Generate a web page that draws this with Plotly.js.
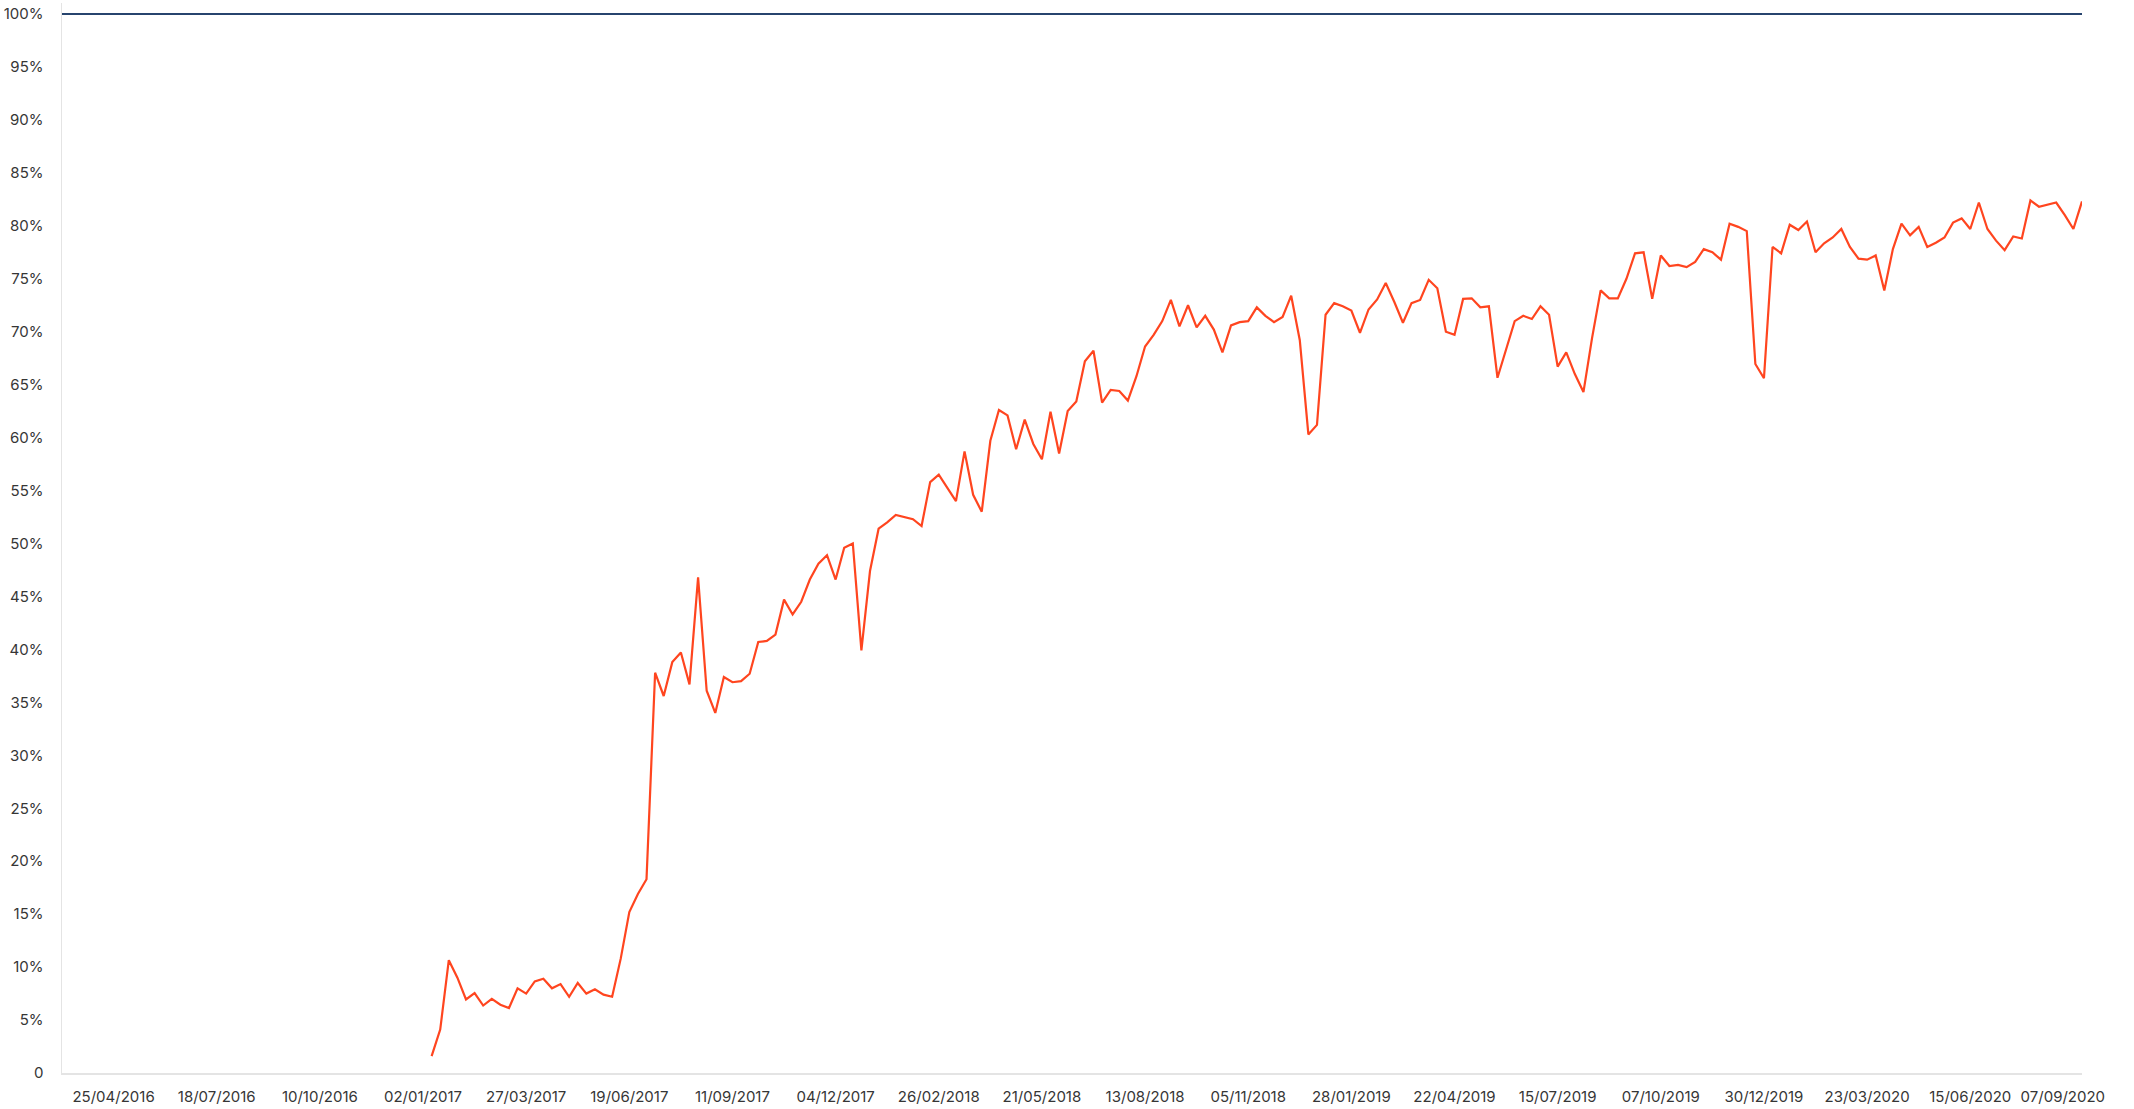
<!DOCTYPE html>
<html>
<head>
<meta charset="utf-8">
<script src="https://cdn.plot.ly/plotly-3.0.1.min.js"></script>
<style>
  html, body { margin: 0; padding: 0; background: #ffffff; }
  #chart { width: 2134px; height: 1109px; }
</style>
</head>
<body>
<div id="chart"></div>
<script>
// ---- Data ----
const seriesStart = '2017-01-09';           // first weekly point of the adoption series
const axisStart = '2016-03-14';
const axisEnd = '2020-09-14';

// weekly share (%) of the orange series
const adoptionPct = [
  1.6, 4.1, 10.65, 9.0, 6.95, 7.55, 6.37, 7.0, 6.45, 6.14,
  7.99, 7.5, 8.65, 8.9, 8.0, 8.4, 7.2, 8.5, 7.5, 7.9,
  7.4, 7.2, 10.8, 15.2, 16.9, 18.3, 37.8, 35.6, 38.8, 39.7,
  36.7, 46.8, 36.1, 34.0, 37.4, 36.9, 37.0, 37.7, 40.7, 40.8,
  41.4, 44.7, 43.3, 44.5, 46.6, 48.1, 48.9, 46.6, 49.6, 50.0,
  39.9, 47.4, 51.4, 52.0, 52.7, 52.5, 52.3, 51.65, 55.8, 56.5,
  55.2, 54.0, 58.7, 54.6, 53.0, 59.7, 62.6, 62.1, 58.9, 61.7,
  59.4, 57.95, 62.45, 58.5, 62.5, 63.4, 67.2, 68.2, 63.3, 64.5,
  64.4, 63.5, 65.8, 68.6, 69.7, 71.0, 73.0, 70.5, 72.5, 70.4,
  71.5, 70.2, 68.05, 70.6, 70.9, 71.0, 72.3, 71.5, 70.9, 71.4,
  73.4, 69.2, 60.3, 61.2, 71.6, 72.7, 72.4, 72.0, 69.9, 72.1,
  73.05, 74.6, 72.8, 70.85, 72.7, 73.0, 74.9, 74.1, 70.0, 69.7,
  73.1, 73.15, 72.3, 72.4, 65.65, 68.3, 71.0, 71.5, 71.2, 72.4,
  71.6, 66.7, 68.05, 66.0, 64.3, 69.4, 73.9, 73.15, 73.15, 75.0,
  77.4, 77.5, 73.1, 77.2, 76.2, 76.3, 76.1, 76.6, 77.8, 77.5,
  76.8, 80.2, 79.9, 79.5, 66.95, 65.6, 78.0, 77.4, 80.1, 79.6,
  80.4, 77.5, 78.35, 78.9, 79.7, 78.0, 76.9, 76.8, 77.2, 73.9,
  77.8, 80.2, 79.1, 79.9, 78.0, 78.4, 78.9, 80.3, 80.7, 79.7,
  82.2, 79.7, 78.6, 77.7, 79.0, 78.8, 82.4, 81.8, 82.0, 82.2,
  81.0, 79.7, 82.3
];

// the flat 100% reference line
const targetDates = ['2016-03-14', '2020-09-14'];
const targetPct = [100, 100];

// axis ticks
const xTickDates = [
  '2016-04-25', '2016-07-18', '2016-10-10', '2017-01-02', '2017-03-27',
  '2017-06-19', '2017-09-11', '2017-12-04', '2018-02-26', '2018-05-21',
  '2018-08-13', '2018-11-05', '2019-01-28', '2019-04-22', '2019-07-15',
  '2019-10-07', '2019-12-30', '2020-03-23', '2020-06-15', '2020-09-07'
];
const xTickLabels = [
  '25/04/2016', '18/07/2016', '10/10/2016', '02/01/2017', '27/03/2017',
  '19/06/2017', '11/09/2017', '04/12/2017', '26/02/2018', '21/05/2018',
  '13/08/2018', '05/11/2018', '28/01/2019', '22/04/2019', '15/07/2019',
  '07/10/2019', '30/12/2019', '23/03/2020', '15/06/2020', '07/09/2020'
];
const yTickValues = [0, 5, 10, 15, 20, 25, 30, 35, 40, 45, 50, 55, 60, 65, 70, 75, 80, 85, 90, 95, 100];
const yTickLabels = ['0', '5%', '10%', '15%', '20%', '25%', '30%', '35%', '40%', '45%', '50%',
  '55%', '60%', '65%', '70%', '75%', '80%', '85%', '90%', '95%', '100%'];

// ---- Build weekly dates for the orange series ----
function weeklyDates(startIso, n) {
  const out = [];
  const base = new Date(startIso + 'T00:00:00Z').getTime();
  for (let i = 0; i < n; i++) {
    const d = new Date(base + i * 7 * 86400000);
    out.push(d.toISOString().slice(0, 10));
  }
  return out;
}
const adoptionDates = weeklyDates(seriesStart, adoptionPct.length);

// last label nudged left so it stays inside the frame, as in the reference
const xTickText = xTickLabels.map((t, i) => i === xTickLabels.length - 1 ? t + '\u00a0\u00a0\u00a0\u00a0\u00a0' : t);

const tickFont = { family: 'Inter, "Noto Sans", sans-serif', size: 15, color: '#363636' };

const traces = [
  {
    type: 'scatter', mode: 'lines',
    x: targetDates, y: targetPct,
    line: { color: '#27446e', width: 2.2 },
    hoverinfo: 'skip', showlegend: false, cliponaxis: false
  },
  {
    type: 'scatter', mode: 'lines',
    x: adoptionDates, y: adoptionPct,
    line: { color: '#ff451f', width: 2.2 },
    hoverinfo: 'skip', showlegend: false
  }
];

const layout = {
  width: 2134, height: 1109,
  margin: { l: 62, r: 52, t: 3, b: 36, pad: 0 },
  paper_bgcolor: '#ffffff', plot_bgcolor: '#ffffff',
  font: tickFont,
  showlegend: false,
  xaxis: {
    type: 'date',
    range: [axisStart, axisEnd],
    tickmode: 'array', tickvals: xTickDates, ticktext: xTickText,
    showgrid: false, zeroline: false,
    showline: true, linecolor: '#e4e4e4', linewidth: 1.5,
    ticks: '', ticklabelstandoff: 9,
    tickfont: tickFont,
    fixedrange: true
  },
  yaxis: {
    range: [0, 101.04],
    tickmode: 'array', tickvals: yTickValues, ticktext: yTickLabels,
    showgrid: false, zeroline: false,
    showline: true, linecolor: '#e4e4e4', linewidth: 1.5,
    ticks: '', ticklabelstandoff: 14,
    tickfont: tickFont,
    fixedrange: true
  }
};

Plotly.newPlot('chart', traces, layout, { displayModeBar: false, staticPlot: true });
</script>
</body>
</html>
